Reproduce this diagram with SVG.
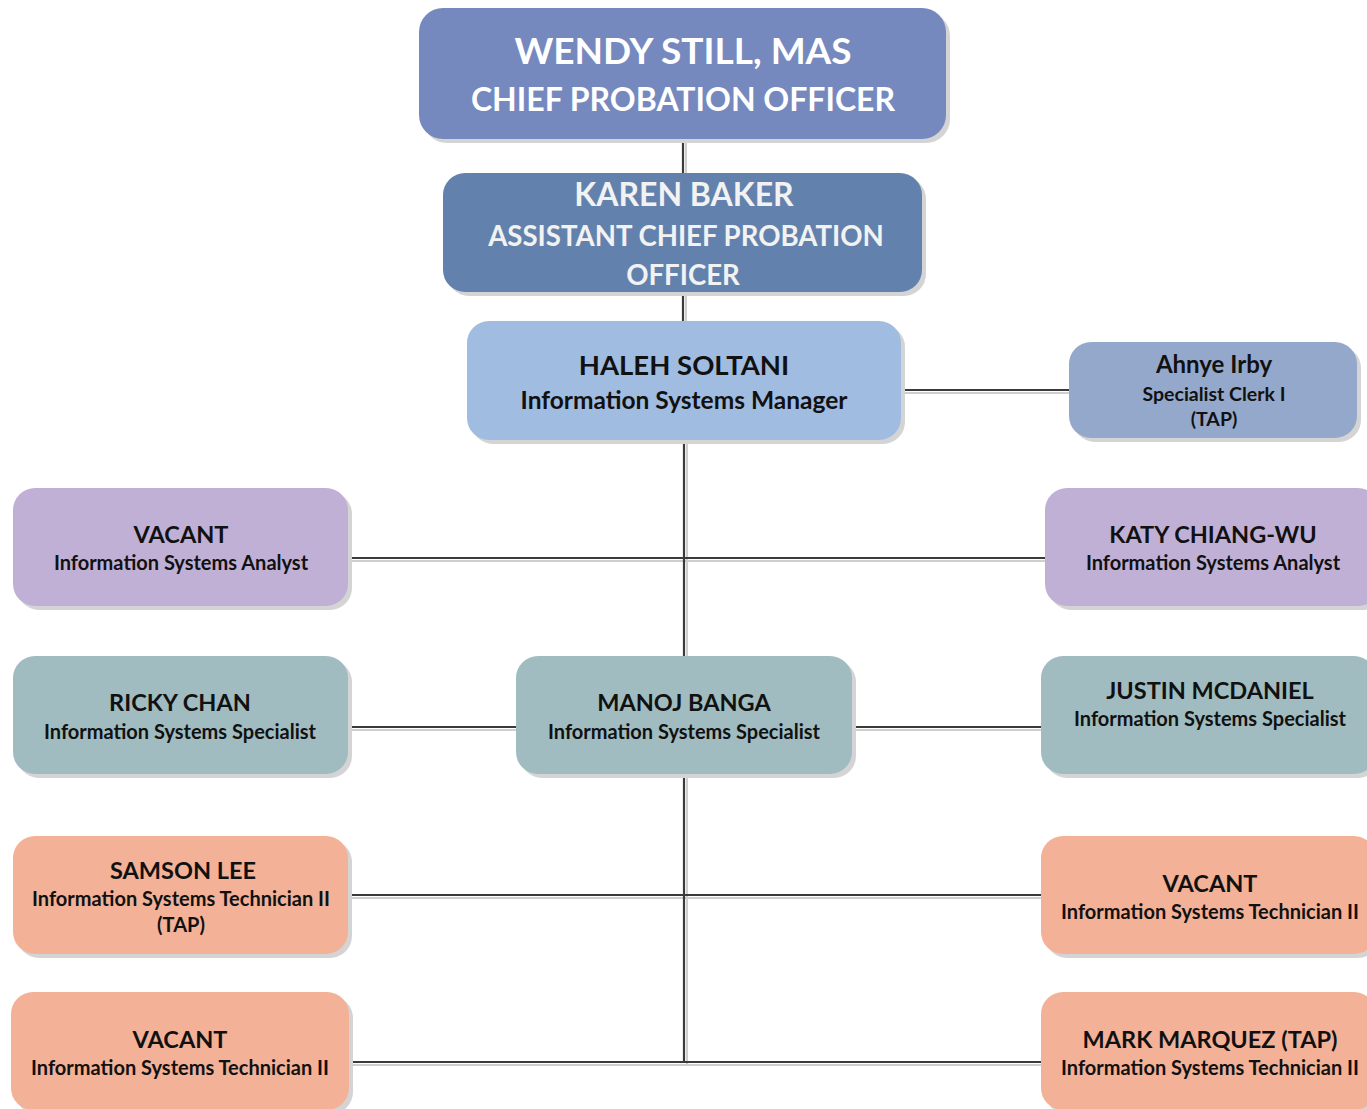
<svg xmlns="http://www.w3.org/2000/svg" width="1367" height="1109" viewBox="0 0 1367 1109">
<style>
text{font-family:Lato,"Liberation Sans",sans-serif;font-weight:bold;text-anchor:middle}
.sh{fill:#d4d4d4}
.w{fill:#ffffff}
.k{fill:#111111}
.t{font-size:23.5px}
.s{font-size:20px}
.c1{fill:#7589BF}
.c2{fill:#6282AD}
.c3{fill:#A0BCE0}
.c4{fill:#94A8CC}
.c5{fill:#C0B0D6}
.c6{fill:#A0BCC0}
.c7{fill:#F3B298}
.ln{stroke:#3a3a3a;stroke-width:2.2;fill:none}
.lns{stroke:#cfcfcf;stroke-width:2;fill:none}
</style>
<rect width="1367" height="1109" fill="#ffffff"/>
<g id="connectors">
<path class="lns" d="M686 139V173M686 292V321M687 440V656M687 774V1064M901 393H1069M348 561H1045M348 730H516M852 730H1041M349 898H1041M352 1065H1041"/>
<path class="ln" d="M683 139V173M683 292V321M684 440V656M684 774V1062M901 390H1069M348 558H1045M348 727H516M852 727H1041M349 895H1041M352 1062H1041"/>
</g>
<g id="wendy">
<rect class="sh" x="423" y="12" width="527" height="131" rx="24"/>
<rect class="c1" x="419" y="8" width="527" height="131" rx="24"/>
<text class="w" x="683" y="64" font-size="37">WENDY STILL, MAS</text>
<text class="w" x="683" y="111" font-size="32">CHIEF PROBATION OFFICER</text>
</g>
<g id="karen">
<rect class="sh" x="447" y="177" width="479" height="119" rx="22"/>
<rect class="c2" x="443" y="173" width="479" height="119" rx="22"/>
<text x="684" y="206" font-size="32" fill="#f2f2f2">KAREN BAKER</text>
<text x="686" y="246" font-size="27.6" fill="#f2f2f2">ASSISTANT CHIEF PROBATION</text>
<text x="683" y="285" font-size="27.6" fill="#f2f2f2">OFFICER</text>
</g>
<g id="haleh">
<rect class="sh" x="471" y="325" width="434" height="119" rx="22"/>
<rect class="c3" x="467" y="321" width="434" height="119" rx="22"/>
<text class="k" x="684" y="375" font-size="27.5">HALEH SOLTANI</text>
<text class="k" x="684" y="409" font-size="24.5">Information Systems Manager</text>
</g>
<g id="ahnye">
<rect class="sh" x="1073" y="346" width="288" height="96" rx="22"/>
<rect class="c4" x="1069" y="342" width="288" height="96" rx="22"/>
<text class="k" x="1214" y="373" font-size="24">Ahnye Irby</text>
<text class="k" x="1214" y="401" font-size="19.5">Specialist Clerk I</text>
<text class="k" x="1214" y="426" font-size="19.5">(TAP)</text>
</g>
<g id="vacant-analyst">
<rect class="sh" x="17" y="492" width="335" height="118" rx="22"/>
<rect class="c5" x="13" y="488" width="335" height="118" rx="22"/>
<text class="k t" x="181" y="543">VACANT</text>
<text class="k s" x="181" y="570">Information Systems Analyst</text>
</g>
<g id="katy">
<rect class="sh" x="1049" y="492" width="335" height="118" rx="22"/>
<rect class="c5" x="1045" y="488" width="335" height="118" rx="22"/>
<text class="k t" x="1213" y="543">KATY CHIANG-WU</text>
<text class="k s" x="1213" y="570">Information Systems Analyst</text>
</g>
<g id="ricky">
<rect class="sh" x="17" y="660" width="335" height="118" rx="22"/>
<rect class="c6" x="13" y="656" width="335" height="118" rx="22"/>
<text class="k t" x="180" y="711">RICKY CHAN</text>
<text class="k s" x="180" y="739">Information Systems Specialist</text>
</g>
<g id="manoj">
<rect class="sh" x="520" y="660" width="336" height="118" rx="22"/>
<rect class="c6" x="516" y="656" width="336" height="118" rx="22"/>
<text class="k t" x="684" y="711">MANOJ BANGA</text>
<text class="k s" x="684" y="739">Information Systems Specialist</text>
</g>
<g id="justin">
<rect class="sh" x="1045" y="660" width="335" height="118" rx="22"/>
<rect class="c6" x="1041" y="656" width="335" height="118" rx="22"/>
<text class="k t" x="1210" y="699">JUSTIN MCDANIEL</text>
<text class="k s" x="1210" y="726">Information Systems Specialist</text>
</g>
<g id="samson">
<rect class="sh" x="17" y="840" width="335" height="118" rx="22"/>
<rect class="c7" x="13" y="836" width="335" height="118" rx="22"/>
<text class="k t" x="183" y="879">SAMSON LEE</text>
<text class="k s" x="181" y="906">Information Systems Technician II</text>
<text class="k s" x="181" y="932">(TAP)</text>
</g>
<g id="vacant-tech-right">
<rect class="sh" x="1045" y="840" width="335" height="118" rx="22"/>
<rect class="c7" x="1041" y="836" width="335" height="118" rx="22"/>
<text class="k t" x="1210" y="892">VACANT</text>
<text class="k s" x="1210" y="919">Information Systems Technician II</text>
</g>
<g id="vacant-tech-left">
<rect class="sh" x="15" y="996" width="338" height="118" rx="22"/>
<rect class="c7" x="11" y="992" width="338" height="118" rx="22"/>
<text class="k t" x="180" y="1048">VACANT</text>
<text class="k s" x="180" y="1075">Information Systems Technician II</text>
</g>
<g id="mark">
<rect class="sh" x="1045" y="996" width="335" height="118" rx="22"/>
<rect class="c7" x="1041" y="992" width="335" height="118" rx="22"/>
<text class="k t" x="1210" y="1048">MARK MARQUEZ (TAP)</text>
<text class="k s" x="1210" y="1075">Information Systems Technician II</text>
</g>
</svg>
